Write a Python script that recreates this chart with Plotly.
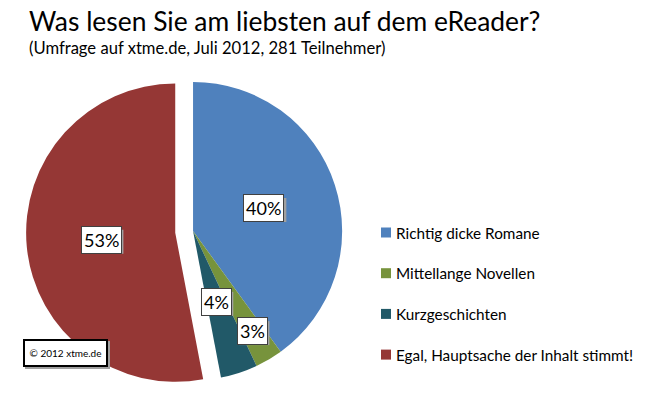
import math
import plotly.graph_objects as go

# ---------------- data ----------------
title_text = "Was lesen Sie am liebsten auf dem eReader?"
subtitle_text = "(Umfrage auf xtme.de, Juli 2012, 281 Teilnehmer)"
labels = ["Richtig dicke Romane", "Mittellange Novellen", "Kurzgeschichten",
          "Egal, Hauptsache der Inhalt stimmt!"]
values = [40, 3, 4, 53]
copyright_text = "© 2012 xtme.de"

# ---------------- style ----------------
colors = ["#4F81BD", "#77933C", "#215968", "#953735"]
pulls = [0, 0, 0, 0.12]
label_radius = [0.5, 0.78, 0.5, 0.5]   # fraction of radius for % boxes
FONT = "Lato"
SHADOW = "#a0a0a0"
W, H = 650, 399
dom_x = [0.04, 0.554]
dom_y = [0.0025, 0.8396]

fig = go.Figure(go.Pie(
    labels=labels, values=values, sort=False, direction="clockwise",
    rotation=0, pull=pulls, textinfo="none", hoverinfo="label+percent",
    marker=dict(colors=colors, line=dict(width=0)),
    domain=dict(x=dom_x, y=dom_y), showlegend=False,
))

# geometry of the pie as plotly computes it
box_w = (dom_x[1] - dom_x[0]) * W
box_h = (dom_y[1] - dom_y[0]) * H
r = min(box_w, box_h) / 2 / (1 + max(pulls))
cx = (dom_x[0] + dom_x[1]) / 2 * W
cy = H * (1 - (dom_y[0] + dom_y[1]) / 2)

annotations = []
shapes = []


def shadow_rect(xc, yc, w, h, off=2):
    """drop shadow (pixel centre xc, yc; size w x h) as a paper-ref rect"""
    return dict(type="rect", xref="paper", yref="paper", layer="above",
                x0=(xc - w / 2 + off) / W, x1=(xc + w / 2 + off) / W,
                y0=1 - (yc + h / 2 + off) / H, y1=1 - (yc - h / 2 + off) / H,
                fillcolor=SHADOW, line=dict(width=0))


total = sum(values)
cum = 0
for v, p, f in zip(values, pulls, label_radius):
    theta = 2 * math.pi * (cum + v / 2) / total
    cum += v
    d = (p + f) * r
    px = cx + d * math.sin(theta)
    py = cy - d * math.cos(theta)
    txt = f"{round(100 * v / total)}%"
    ndig = len(txt) - 1
    bw = 10.4 * ndig + 14 + 6
    shapes.append(shadow_rect(px, py, bw, 24))
    annotations.append(dict(x=px / W, y=1 - py / H, xref="paper", yref="paper",
                            xanchor="center", yanchor="middle",
                            showarrow=False, text=txt, borderpad=2, borderwidth=1,
                            bgcolor="white", bordercolor="#404040",
                            font=dict(family=FONT, size=18, color="black")))

# titles
annotations.append(dict(x=27 / W, y=1 - 21 / H, xref="paper", yref="paper",
                        xanchor="left", yanchor="middle", showarrow=False,
                        text=title_text, font=dict(family=FONT, size=26.4, color="black")))
annotations.append(dict(x=27 / W, y=1 - 48 / H, xref="paper", yref="paper",
                        xanchor="left", yanchor="middle", showarrow=False,
                        text=subtitle_text, font=dict(family=FONT, size=16.6, color="black")))

# legend (manual, for exact spacing)
leg_x, leg_y0, leg_dy, sq = 381, 232.5, 40.7, 10
for i, (lab, col) in enumerate(zip(labels, colors)):
    yc = leg_y0 + i * leg_dy
    shapes.append(dict(type="rect", xref="paper", yref="paper",
                       x0=leg_x / W, x1=(leg_x + sq) / W,
                       y0=1 - (yc + sq / 2) / H, y1=1 - (yc - sq / 2) / H,
                       fillcolor=col, line=dict(width=0)))
    annotations.append(dict(x=(leg_x + sq + 3) / W, y=1 - yc / H, xref="paper", yref="paper",
                            xanchor="left", yanchor="middle", showarrow=False,
                            text=lab, font=dict(family=FONT, size=15.3, color="black")))

# copyright box with shadow
cpx, cpy, cpw, cph = 65.5, 353, 79, 22
shapes.append(shadow_rect(cpx, cpy, cpw + 6, cph + 6))
annotations.append(dict(x=cpx / W, y=1 - cpy / H, xref="paper", yref="paper", showarrow=False,
                        xanchor="center", yanchor="middle",
                        text=copyright_text, width=cpw, height=cph, borderpad=1, borderwidth=2,
                        bgcolor="white", bordercolor="black",
                        font=dict(family=FONT, size=10, color="black")))

fig.update_layout(
    width=W, height=H, margin=dict(l=0, r=0, t=0, b=0),
    paper_bgcolor="white", plot_bgcolor="white",
    annotations=annotations, shapes=shapes,
)

fig.write_html("out.html", config={"displayModeBar": False},
               post_script="document.body.style.margin='0';")
